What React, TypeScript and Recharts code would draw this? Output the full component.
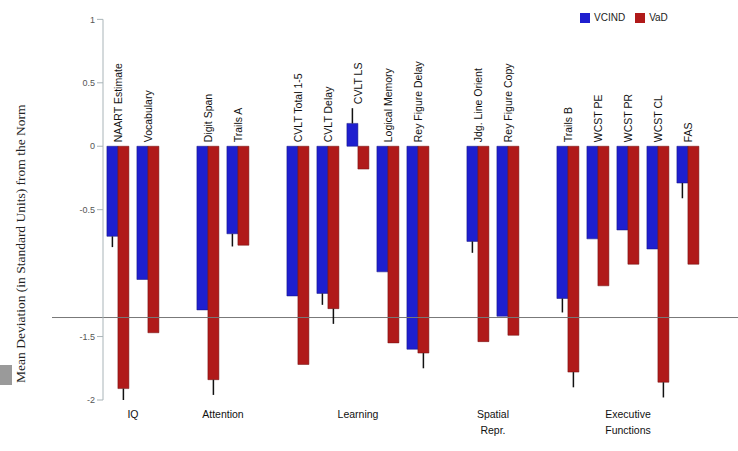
import React from "react";
import { BarChart, Bar, XAxis, YAxis, Legend, ReferenceLine, ErrorBar, LabelList } from "recharts";

// test names, in plot order
const tests = [
  "NAART Estimate", "Vocabulary",
  "Digit Span", "Trails A",
  "CVLT Total 1-5", "CVLT Delay", "CVLT LS", "Logical Memory", "Rey Figure Delay",
  "Jdg. Line Orient", "Rey Figure Copy",
  "Trails B", "WCST PE", "WCST PR", "WCST CL", "FAS",
];
const testGroup = [0, 0, 1, 1, 2, 2, 2, 2, 2, 3, 3, 4, 4, 4, 4, 4];
const groupNames = ["IQ", "Attention", "Learning", "Spatial|Repr.", "Executive|Functions"];

const blueVals = [-0.71, -1.05, -1.29, -0.69, -1.18, -1.16, 0.18, -0.99, -1.6, -0.75, -1.34, -1.2, -0.73, -0.66, -0.81, -0.29];
const redVals = [-1.91, -1.47, -1.84, -0.78, -1.72, -1.28, -0.18, -1.55, -1.63, -1.54, -1.49, -1.78, -1.1, -0.93, -1.86, -0.93];
const blueErr = [0.085, null, null, 0.1, null, 0.09, 0.12, null, null, 0.09, null, 0.11, null, null, null, 0.12];
const redErr = [0.09, null, 0.12, null, null, 0.12, null, null, 0.12, null, null, 0.12, null, null, 0.12, null];

const yTicks = [-2, -1.5, -0.5, 0, 0.5, 1];
const cutoff = -1.35;

// build rows with an empty slot after each group
const rows: any[] = [];
const groupStart: Record<number, number> = {};
const groupSize: Record<number, number> = {};
tests.forEach((t, i) => {
  const g = testGroup[i];
  if (i > 0 && testGroup[i - 1] !== g) rows.push({ key: "gap" + i, blue: null, red: null });
  if (groupStart[g] === undefined) groupStart[g] = rows.length;
  groupSize[g] = (groupSize[g] || 0) + 1;
  const be = blueErr[i];
  const re = redErr[i];
  rows.push({
    key: t,
    label: t,
    blue: blueVals[i],
    red: redVals[i],
    blueErr: be == null ? null : blueVals[i] < 0 ? [be, 0] : [0, be],
    redErr: re == null ? null : redVals[i] < 0 ? [re, 0] : [0, re],
  });
});
rows.push({ key: "gapEnd", blue: null, red: null });

const TestLabel = (props: any) => {
  const { value } = props;
  if (!value) return null;
  const vb = props.viewBox || props;
  const x = vb.x ?? props.x;
  const y = vb.y ?? props.y;
  const w = vb.width ?? props.width;
  const h = vb.height ?? props.height;
  const row = rows.find((r) => r.label === value);
  let top = Math.min(y, y + h);
  if (row && row.blue > 0 && row.blueErr) {
    const pxPerUnit = Math.abs(h) / Math.abs(row.blue);
    top -= row.blueErr[1] * pxPerUnit;
  }
  const cx = x + w;
  const ty = top - 4;
  return (
    <text x={cx} y={ty} transform={`rotate(-90 ${cx} ${ty})`} textAnchor="start" dominantBaseline="central"
      fontSize={10.5} fill="#111" fontFamily="Liberation Sans, Arial, sans-serif">
      {value}
    </text>
  );
};

const GroupTick = (props: any) => {
  const { x, y, payload } = props;
  const idx = payload.index;
  const g = Object.keys(groupStart).find((k) => groupStart[+k] === idx);
  if (g === undefined) return null;
  const half = payload.offset || 15;
  const shift = (groupSize[+g] - 1) * half;
  const lines = groupNames[+g].split("|");
  return (
    <text x={x + shift} y={y + 10} textAnchor="middle" fontSize={10.5} fill="#111"
      fontFamily="Liberation Sans, Arial, sans-serif">
      {lines.map((l, i) => (
        <tspan key={i} x={x + shift} dy={i === 0 ? 0 : 16}>{l}</tspan>
      ))}
    </text>
  );
};

const CutLine = (p: any) => (
  <line x1={p.x1 - 51} y1={p.y1} x2={p.x2 + 5} y2={p.y2} stroke="#777" strokeWidth={1} />
);

export default function App() {
  return (
    <div style={{ position: "absolute", left: 0, top: 0, width: 738, height: 451, background: "#fff" }}>
      <div style={{ position: "absolute", left: 0, top: 365, width: 12, height: 20, background: "#9a9a9a" }} />
      <BarChart width={738} height={451} data={rows} margin={{ top: 8, right: 5, bottom: 11, left: 0 }}
        barCategoryGap="13%" barGap={0}>
        <XAxis dataKey="key" height={40} axisLine={false} tickLine={false} interval={0} tick={<GroupTick />} />
        <YAxis width={103} domain={[-2, 1]} ticks={yTicks} allowDataOverflow
          tick={{ fontSize: 9, fill: "#555", fontFamily: "Liberation Sans, Arial, sans-serif" }}
          tickLine={{ stroke: "#a9b4b8" }} axisLine={{ stroke: "#a9b4b8" }}
          label={{ value: "Mean Deviation (in Standard Units) from the Norm", angle: -90, position: "insideLeft",
            offset: 20, dy: 34, style: { fontSize: 13.5, fill: "#222", textAnchor: "middle", fontFamily: "Liberation Serif, serif" } }} />
        <Legend verticalAlign="top" align="left" iconType="square" iconSize={10}
          wrapperStyle={{ top: 12, left: 580, width: 140, fontSize: 10, fontFamily: "Liberation Sans, Arial, sans-serif" }}
          formatter={(v: string) => <span style={{ color: "#222" }}>{v}</span>} />
        <ReferenceLine y={cutoff} shape={<CutLine />} ifOverflow="visible" />
        <Bar dataKey="blue" name="VCIND" fill="#1f1fcf" stroke="#12127a" strokeWidth={0.5} isAnimationActive={false}>
          <ErrorBar dataKey="blueErr" width={0} stroke="#111" strokeWidth={1.5} direction="y" />
          <LabelList dataKey="label" content={<TestLabel />} />
        </Bar>
        <Bar dataKey="red" name="VaD" fill="#b01a1a" stroke="#6e0e0e" strokeWidth={0.5} isAnimationActive={false}>
          <ErrorBar dataKey="redErr" width={0} stroke="#111" strokeWidth={1.5} direction="y" />
        </Bar>
      </BarChart>
    </div>
  );
}
